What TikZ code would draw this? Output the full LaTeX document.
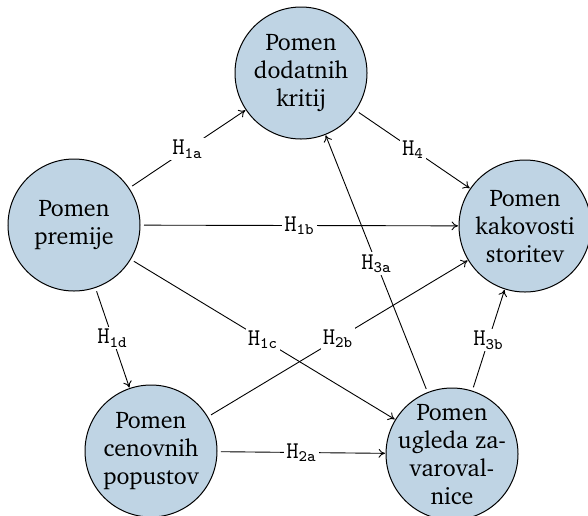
\documentclass[tikz,border=0pt]{standalone}
\usepackage[T1]{fontenc}
\usepackage{charter}
\usetikzlibrary{arrows.meta}
\definecolor{bubblefill}{RGB}{191,212,228}
\tikzset{
  bubble/.style={circle, draw=black, line width=0.5pt, fill=bubblefill, minimum size=66pt, inner sep=0pt, outer sep=0pt},
  btext/.style={align=center, font=\large, inner sep=0pt},
  hyp/.style={fill=white, inner sep=1pt, font=\large},
  edge/.style={-{To[length=3.2pt,width=4.4pt]}, line width=0.45pt, shorten <=2pt, shorten >=0.5pt}
}
\begin{document}
\begin{tikzpicture}[x=0.5pt,y=-0.5pt]
\useasboundingbox (0,0) rectangle (588,515);
\node[bubble] (A) at (74,225) {};
\node[bubble] (B) at (301,73) {};
\node[bubble] (C) at (525,226) {};
\node[bubble] (D) at (151,451) {};
\node[bubble] (E) at (452,454) {};
\node[btext] (At) at (A) {Pomen\\premije};
\node[btext] (Bt) at (B) {Pomen\\dodatnih\\kritij};
\node[btext] (Ct) at (C) {Pomen\\kakovosti\\storitev};
\node[btext] (Dt) at (D) {Pomen\\cenovnih\\popustov};
\node[btext] (Et) at (E) {Pomen\\ugleda za-\\varoval-\\nice};
\draw[edge] (A) -- (B) node[hyp, midway] (l1a) {$\mathtt{H}_{\mathtt{1a}}$};
\draw[edge] (B) -- (C) node[hyp, midway] (l4) {$\mathtt{H}_{\mathtt{4}}$};
\draw[edge] (A) -- (C) node[hyp, midway] (l1b) {$\mathtt{H}_{\mathtt{1b}}$};
\draw[edge] (A) -- (E) node[hyp, midway] (l1c) {$\mathtt{H}_{\mathtt{1c}}$};
\draw[edge] (A) -- (D) node[hyp, midway] (l1d) {$\mathtt{H}_{\mathtt{1d}}$};
\draw[edge] (D) -- (E) node[hyp, midway] (l2a) {$\mathtt{H}_{\mathtt{2a}}$};
\draw[edge] (D) -- (C) node[hyp, midway] (l2b) {$\mathtt{H}_{\mathtt{2b}}$};
\draw[edge] (E) -- (B) node[hyp, midway] (l3a) {$\mathtt{H}_{\mathtt{3a}}$};
\draw[edge] (E) -- (C) node[hyp, midway] (l3b) {$\mathtt{H}_{\mathtt{3b}}$};
\end{tikzpicture}
\end{document}
